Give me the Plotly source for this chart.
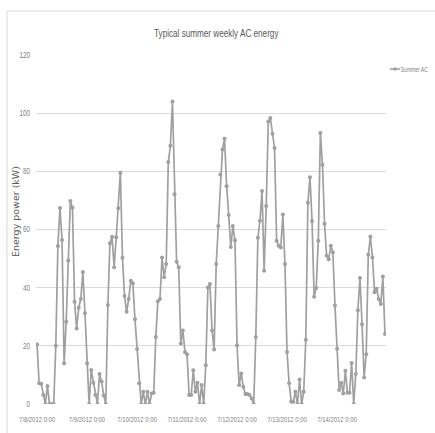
import pandas as pd
import plotly.graph_objects as go

# Hourly AC energy over one summer week (7/8/2012 0:00 .. 7/14/2012 23:00)
start_time = "2012-07-08 00:00"
series_name = "Summer AC"
chart_title = "Typical summer weekly AC energy"
y_title = "Energy power (kW)"

summer_ac = [
    20.5, 7.1, 7.0, 3.1, 0.0, 6.2, 0.0, 0.0, 0.0, 20.0, 54.3, 67.4,
    56.4, 14.0, 28.3, 49.3, 69.8, 67.5, 35.2, 26.0, 33.1, 36.1, 45.4, 31.2,
    14.0, 0.0, 11.7, 7.3, 3.1, 0.0, 10.3, 7.7, 3.0, 0.0, 34.0, 55.3,
    57.5, 47.0, 57.3, 67.3, 79.5, 50.3, 37.1, 31.7, 36.1, 42.4, 41.5, 29.1,
    18.9, 7.1, 0.0, 4.2, 0.0, 4.2, 0.0, 3.6, 3.9, 23.0, 35.3, 36.1,
    50.4, 43.6, 48.1, 83.2, 88.8, 104.0, 72.1, 48.9, 47.0, 20.8, 25.3, 17.9,
    17.1, 3.1, 3.1, 11.6, 4.2, 7.3, 0.0, 6.5, 0.0, 13.3, 40.1, 41.3,
    25.3, 18.7, 48.1, 61.2, 78.9, 87.5, 91.2, 74.9, 65.0, 54.0, 61.2, 56.3,
    20.2, 6.5, 10.5, 5.9, 3.4, 3.4, 3.1, 1.9, 0.0, 23.0, 57.2, 63.0,
    73.2, 45.8, 68.1, 97.1, 98.3, 92.9, 88.0, 56.1, 54.4, 53.8, 65.2, 48.1,
    17.9, 7.1, 0.8, 0.8, 4.2, 0.0, 8.4, 0.0, 4.2, 22.1, 69.2, 78.0,
    62.9, 36.9, 39.9, 56.1, 93.2, 82.3, 62.0, 51.0, 49.8, 54.4, 52.1, 33.9,
    19.0, 4.8, 7.3, 3.6, 11.4, 3.9, 3.9, 14.1, 0.0, 10.3, 32.2, 43.3,
    27.4, 9.1, 17.1, 51.3, 57.5, 50.4, 38.4, 39.6, 36.1, 34.4, 43.8, 24.1,
]

day_labels = [
    "7/8/2012 0:00", "7/9/2012 0:00", "7/10/2012 0:00", "7/11/2012 0:00",
    "7/12/2012 0:00", "7/13/2012 0:00", "7/14/2012 0:00",
]
y_ticks = [0, 20, 40, 60, 80, 100, 120]

times = pd.date_range(start_time, periods=len(summer_ac), freq="h")
day_starts = pd.date_range(start_time, periods=len(day_labels), freq="D")

LINE = "#a0a0a0"
GRID = "#d9d9d9"
TXT = "#808080"
FONT = "Liberation Sans, Arial, sans-serif"

W, H = 435, 433
L, R, T, B = 36, 49, 55, 29
plot_w = W - L - R
plot_h = H - T - B


def px_x(px):
    return (px - L) / plot_w


def px_y(py):
    return (H - B - py) / plot_h


fig = go.Figure()
fig.add_trace(go.Scatter(
    x=times, y=summer_ac, mode="lines+markers", name=series_name,
    line=dict(color=LINE, width=1.7),
    marker=dict(color=LINE, size=4, symbol="circle"),
    showlegend=False,
))

half_hour = pd.Timedelta(minutes=30)
fig.update_xaxes(
    range=[times[0] - half_hour, times[-1] + half_hour],
    tickvals=day_starts, ticktext=day_labels, tickangle=0,
    showgrid=False, zeroline=False, showline=False, ticks="",
    tickfont=dict(family=FONT, size=8, color=TXT),
    ticklabelstandoff=9,
)
fig.update_yaxes(
    range=[0, 120], tickvals=y_ticks,
    showgrid=True, gridcolor=GRID, gridwidth=1,
    zeroline=False, showline=False, ticks="",
    tickfont=dict(family=FONT, size=8.5, color=TXT),
    ticklabelstandoff=5,
)

# Chart-area border
fig.add_shape(type="rect", xref="paper", yref="paper",
              x0=px_x(7), x1=px_x(440), y0=px_y(440), y1=px_y(11),
              line=dict(color="#d9d9d9", width=1), layer="below")

# Legend entry drawn beside the plot
fig.add_shape(type="line", xref="paper", yref="paper",
              x0=px_x(390), x1=px_x(400), y0=px_y(69), y1=px_y(69),
              line=dict(color=LINE, width=1.6))
fig.add_shape(type="circle", xref="paper", yref="paper",
              x0=px_x(393.5), x1=px_x(396.5), y0=px_y(70.5), y1=px_y(67.5),
              line=dict(color=LINE, width=0.5), fillcolor=LINE)
fig.add_annotation(x=px_x(414.5), y=px_y(69), xref="paper", yref="paper",
                   text=series_name, showarrow=False, xanchor="center",
                   yanchor="middle", font=dict(family=FONT, size=6.8, color=TXT))

# Y-axis title
fig.add_annotation(x=px_x(15), y=px_y(212), xref="paper", yref="paper",
                   text=y_title, showarrow=False, textangle=-90,
                   xanchor="center", yanchor="middle",
                   font=dict(family="DejaVu Sans, Verdana, sans-serif", size=9.5, color="#595959"))

fig.update_layout(
    width=W, height=H,
    margin=dict(l=L, r=R, t=T, b=B, autoexpand=False),
    paper_bgcolor="white", plot_bgcolor="white",
    title=dict(text=chart_title, x=px_x(210), xanchor="center",
               y=1 - 33 / H, yanchor="middle",
               font=dict(family=FONT, size=11, color="#595959")),
)

# Horizontal labels use a condensed face (glyphs narrowed with textLength).
condense_js = """
var gd = document.getElementById('{plot_id}');
function condense() {
  var sel = '.xtick text, .ytick text, text.gtitle, .annotation[data-index="0"] text';
  gd.querySelectorAll(sel).forEach(function (t) {
    var w = t.getAttribute('data-w');
    if (!w) { w = t.getComputedTextLength(); t.setAttribute('data-w', w); }
    t.setAttribute('lengthAdjust', 'spacingAndGlyphs');
    t.setAttribute('textLength', (parseFloat(w) * 0.74).toFixed(2));
  });
}
condense();
gd.on('plotly_afterplot', condense);
"""

fig.write_html("out.html", post_script=condense_js)
